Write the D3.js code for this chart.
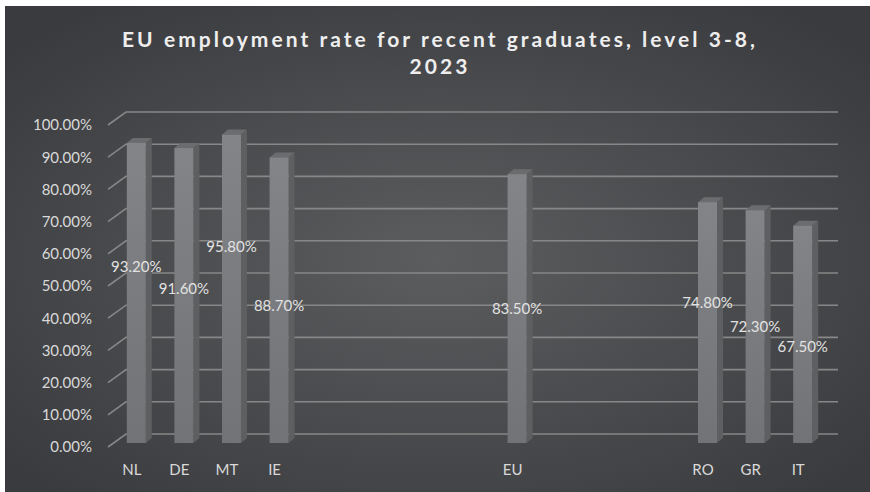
<!DOCTYPE html>
<html>
<head>
<meta charset="utf-8">
<script src="https://cdn.jsdelivr.net/npm/d3@7"></script>
<style>
  html, body { margin: 0; padding: 0; background: #ffffff; }
  svg { display: block; }
  text { font-family: Lato, "Open Sans", sans-serif; }
</style>
</head>
<body>
<svg id="chart" width="870" height="492"></svg>
<script>
// Categories along the x axis (blank slots keep the gaps between groups)
const categories = ["NL", "DE", "MT", "IE", "", "", "", "", "EU", "", "", "", "RO", "GR", "IT"];
// Employment rate of recent graduates, 2023 (null = empty slot)
const rates = [0.932, 0.916, 0.958, 0.887, null, null, null, null, 0.835, null, null, null, 0.748, 0.723, 0.675];
// Value-axis ticks
const yTicks = [0, 0.1, 0.2, 0.3, 0.4, 0.5, 0.6, 0.7, 0.8, 0.9, 1.0];
const titleLines = ["EU employment rate for recent graduates, level 3-8,", "2023"];

// Layout: how far each value label sits below its bar's top (px)
const labelDrop = [124, 141, 112, 148, 0, 0, 0, 0, 135, 0, 0, 0, 101, 117, 121];

const W = 870, H = 492;
const svg = d3.select("#chart");
const defs = svg.append("defs");

// Dark radial backdrop
const bg = defs.append("radialGradient").attr("id", "bg")
  .attr("cx", "50%").attr("cy", "52%").attr("r", "65%");
bg.append("stop").attr("offset", "0%").attr("stop-color", "#5c5d5f");
bg.append("stop").attr("offset", "100%").attr("stop-color", "#3a3b3e");

const front = defs.append("linearGradient").attr("id", "barFront")
  .attr("x1", 0).attr("y1", 0).attr("x2", 0).attr("y2", 1);
front.append("stop").attr("offset", "0%").attr("stop-color", "#838487");
front.append("stop").attr("offset", "100%").attr("stop-color", "#727376");

svg.append("rect").attr("x", 5).attr("y", 6).attr("width", W - 5).attr("height", H - 6)
  .attr("fill", "url(#bg)");

// 3D geometry: back wall, front edge and bar depth
const wallDepth = { dx: 18, dy: 13 };   // front edge -> back wall
const barDepth = { dx: 6, dy: 5 };      // bar front face -> bar back face
const idx = d3.range(categories.length);

const xFront = d3.scaleBand().domain(idx).range([108, 822]).padding(0);
const yWall = d3.scaleLinear().domain([0, 1]).range([434, 112]);
const yFront = d3.scaleLinear().domain([0, 1]).range([447, 125]);
const yBar = d3.scaleLinear().domain([0, 1]).range([443, 121]);
const barW = 19;
const barLeft = i => xFront(i) + xFront.bandwidth() / 2 - 5;

// Gridlines: slanted on the side wall, flat along the back wall
const grid = svg.append("g").attr("stroke", "#878787").attr("stroke-width", 1.6).attr("fill", "none");
grid.selectAll("path.g").data(yTicks).join("path").attr("class", "g")
  .attr("d", t => `M${108},${yFront(t)}L${108 + wallDepth.dx},${yWall(t)}L838,${yWall(t)}`);

// Value axis labels
const yAxis = d3.axisLeft(yFront).tickValues(yTicks).tickFormat(d3.format(".2%"))
  .tickSize(0).tickPadding(16);
const ya = svg.append("g").attr("transform", "translate(108,0)").call(yAxis);
ya.select(".domain").remove();
ya.selectAll("text").attr("fill", "#d9d9d9").attr("font-size", 15)
  .style("font-family", "Lato, 'Open Sans', sans-serif");

// Category axis labels
const xAxis = d3.axisBottom(xFront).tickFormat(i => categories[i]).tickSize(0).tickPadding(0);
const xa = svg.append("g").attr("transform", "translate(0,464)").call(xAxis);
xa.select(".domain").remove();
xa.selectAll("text").attr("fill", "#d9d9d9").attr("font-size", 15).attr("dy", "0.71em")
  .style("font-family", "Lato, 'Open Sans', sans-serif");

// Bars
const data = idx.filter(i => rates[i] != null).map(i => ({ i, v: rates[i] }));
const bars = svg.append("g").selectAll("g").data(data).join("g");

bars.append("path").attr("fill", "#5e5f61")
  .attr("d", d => {
    const r = barLeft(d.i) + barW, t = yBar(d.v), b = yBar(0);
    return `M${r},${t}L${r + barDepth.dx},${t - barDepth.dy}L${r + barDepth.dx},${b - barDepth.dy}L${r},${b}Z`;
  });
bars.append("path").attr("fill", "#6b6c6e")
  .attr("d", d => {
    const l = barLeft(d.i), r = l + barW, t = yBar(d.v);
    return `M${l},${t}L${l + barDepth.dx},${t - barDepth.dy}L${r + barDepth.dx},${t - barDepth.dy}L${r},${t}Z`;
  });
bars.append("rect").attr("fill", "url(#barFront)")
  .attr("x", d => barLeft(d.i)).attr("width", barW)
  .attr("y", d => yBar(d.v)).attr("height", d => yBar(0) - yBar(d.v));

// Value labels
svg.append("g").selectAll("text").data(data).join("text")
  .attr("x", d => barLeft(d.i) + barW / 2)
  .attr("y", d => yBar(d.v) + labelDrop[d.i])
  .attr("dy", "0.35em")
  .attr("text-anchor", "middle").attr("fill", "#e2e2e2").attr("font-size", 15)
  .text(d => d3.format(".2%")(d.v));

// Title
const title = svg.append("g").selectAll("text").data(titleLines).join("text")
  .attr("x", 440).attr("y", (d, k) => 47 + k * 27)
  .attr("text-anchor", "middle").attr("fill", "#eeeeee")
  .attr("font-size", 21).attr("font-weight", 700)
  .text(d => d);
// spread the first line to its full width with letter spacing
const t0 = title.filter((d, k) => k === 0).node();
const natural = t0.getComputedTextLength();
const spacing = Math.max(0, (633 - natural) / (titleLines[0].length - 1));
title.attr("letter-spacing", spacing);
</script>
</body>
</html>
